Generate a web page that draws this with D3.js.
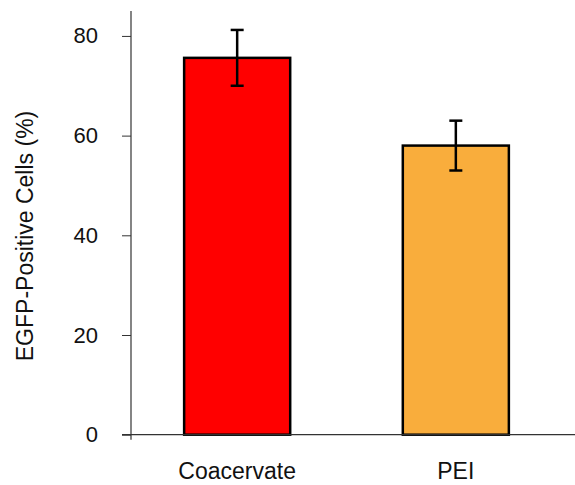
<!DOCTYPE html>
<html>
<head>
<meta charset="utf-8">
<script src="https://cdn.jsdelivr.net/npm/d3@7"></script>
<style>
  body { margin: 0; background: #fff; }
  text { font-family: "Liberation Sans", Arial, sans-serif; fill: #111; }
</style>
</head>
<body>
<div class="chart"></div>
<script>
// values
const groups = ['Coacervate', 'PEI'];
const means = [75.6, 58.0];
const errors = [5.6, 5.0];
const colors = ['#ff0000', '#f9ad3c'];
const yTicks = [0, 20, 40, 60, 80];

const width = 575, height = 485;
const svg = d3.select('.chart')
  .append('svg')
  .attr('width', width)
  .attr('height', height);

const x = d3.scaleBand()
  .domain(groups)
  .range([131, 562])
  .paddingInner(0.515)
  .paddingOuter(0.243);

const y = d3.scaleLinear()
  .domain([0, 85])
  .range([434.7, 11]);

// bars
svg.selectAll('rect.bar')
  .data(groups)
  .enter()
  .append('rect')
  .attr('class', 'bar')
  .attr('x', d => x(d))
  .attr('y', (d, i) => y(means[i]))
  .attr('width', x.bandwidth())
  .attr('height', (d, i) => y(0) - y(means[i]))
  .attr('fill', (d, i) => colors[i])
  .attr('stroke', '#000')
  .attr('stroke-width', 2.5);

// error bars
const cap = 6.5;
const err = svg.selectAll('g.err')
  .data(groups)
  .enter()
  .append('g')
  .attr('class', 'err')
  .attr('stroke', '#000')
  .attr('stroke-width', 2.5);

err.append('line')
  .attr('x1', d => x(d) + x.bandwidth() / 2)
  .attr('x2', d => x(d) + x.bandwidth() / 2)
  .attr('y1', (d, i) => y(means[i] + errors[i]))
  .attr('y2', (d, i) => y(means[i] - errors[i]));

err.append('line')
  .attr('x1', d => x(d) + x.bandwidth() / 2 - cap)
  .attr('x2', d => x(d) + x.bandwidth() / 2 + cap)
  .attr('y1', (d, i) => y(means[i] + errors[i]))
  .attr('y2', (d, i) => y(means[i] + errors[i]));

err.append('line')
  .attr('x1', d => x(d) + x.bandwidth() / 2 - cap)
  .attr('x2', d => x(d) + x.bandwidth() / 2 + cap)
  .attr('y1', (d, i) => y(means[i] - errors[i]))
  .attr('y2', (d, i) => y(means[i] - errors[i]));

// y axis
const yAxis = d3.axisLeft(y)
  .tickValues(yTicks)
  .tickSize(9)
  .tickPadding(24)
  .tickSizeOuter(0);

const gy = svg.append('g')
  .attr('transform', 'translate(131,0)')
  .call(yAxis);

gy.select('.domain').remove();
gy.selectAll('.tick line').attr('stroke', '#333');
gy.selectAll('.tick text')
  .style('font-size', '22px')
  .style('font-family', '"Liberation Sans", Arial, sans-serif')
  .attr('fill', '#111');

// axis lines
svg.append('line')
  .attr('x1', 131).attr('x2', 131)
  .attr('y1', y(85)).attr('y2', y(0) + 5)
  .attr('stroke', '#333').attr('stroke-width', 1.2);

svg.append('line')
  .attr('x1', 122).attr('x2', width)
  .attr('y1', y(0)).attr('y2', y(0))
  .attr('stroke', '#333').attr('stroke-width', 1.2);

// x labels
svg.selectAll('text.xlab')
  .data(groups)
  .enter()
  .append('text')
  .attr('class', 'xlab')
  .attr('x', d => x(d) + x.bandwidth() / 2)
  .attr('y', 479)
  .attr('text-anchor', 'middle')
  .style('font-size', '23px')
  .text(d => d);

// y label
svg.append('text')
  .attr('transform', 'translate(33,236) rotate(-90)')
  .attr('text-anchor', 'middle')
  .style('font-size', '23px')
  .text('EGFP-Positive Cells (%)');
</script>
</body>
</html>
